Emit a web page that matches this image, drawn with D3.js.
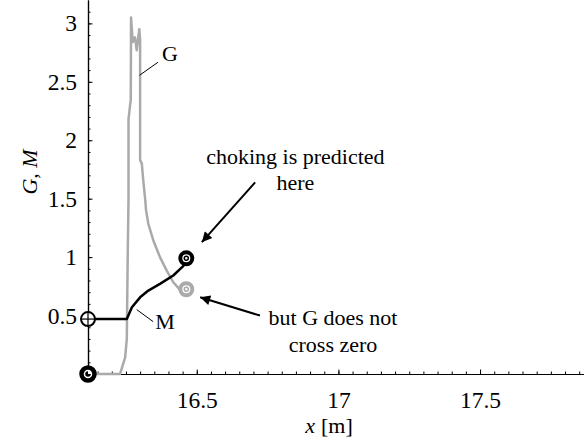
<!DOCTYPE html>
<html>
<head>
<meta charset="utf-8">
<script src="https://cdn.jsdelivr.net/npm/d3@7"></script>
<style>
  body { margin: 0; background: #fff; }
  svg, svg text { font-family: 'Liberation Serif', Tinos, 'Times New Roman', Times, 'DejaVu Serif', serif !important; }
</style>
</head>
<body>
<script>
// G curve (grey) and M curve (black)
var gX = [16.116, 16.229, 16.247, 16.253, 16.256, 16.259, 16.259, 16.267, 16.268, 16.274, 16.282, 16.288, 16.297, 16.300, 16.300, 16.306, 16.311, 16.318, 16.321, 16.329, 16.347, 16.370, 16.394, 16.417, 16.441, 16.455, 16.463]
var gY = [0, 0, 0.14, 0.30, 0.97, 1.49, 2.18, 2.35, 3.05, 2.84, 2.88, 2.77, 2.95, 2.86, 1.83, 1.80, 1.66, 1.49, 1.40, 1.285, 1.14, 1.00, 0.885, 0.785, 0.72, 0.705, 0.725]

var mX = [16.116, 16.253, 16.271, 16.300, 16.329, 16.370, 16.417, 16.453, 16.463]
var mY = [0.47, 0.47, 0.571, 0.656, 0.714, 0.771, 0.843, 0.925, 0.99]

var xTicks = [16.5, 17, 17.5]
var yTicks = [0.5, 1, 1.5, 2, 2.5, 3]

var width = 584, height = 442
var left = 88, bottom = 374
var serif = "'Liberation Serif', Tinos, 'Times New Roman', Times, 'DejaVu Serif', serif"

var svg = d3.select("body").append("svg")
    .attr("width", width)
    .attr("height", height)
    .attr("font-family", serif)

var x = d3.scaleLinear().domain([16.116, 17.867]).range([left, width])
var y = d3.scaleLinear().domain([0, 3.2]).range([bottom, 0])

var gData = gX.map(function(d, i) { return [d, gY[i]] })
var mData = mX.map(function(d, i) { return [d, mY[i]] })

// minor ticks
svg.append("g")
    .attr("transform", "translate(0," + bottom + ")")
    .call(d3.axisBottom(x).tickValues(d3.range(16.15, 17.87, 0.05)).tickSize(-2.5).tickSizeOuter(0).tickFormat(""))
svg.append("g")
    .attr("transform", "translate(" + left + ",0)")
    .call(d3.axisLeft(y).tickValues(d3.range(0.1, 3.2, 0.1)).tickSize(-2.5).tickSizeOuter(0).tickFormat(""))

// major ticks + labels
svg.append("g")
    .attr("transform", "translate(0," + bottom + ")")
    .call(d3.axisBottom(x).tickValues(xTicks).tickSize(-4.5).tickSizeOuter(0).tickPadding(17).tickFormat(function(d) { return d }))
svg.append("g")
    .attr("transform", "translate(" + left + ",0)")
    .call(d3.axisLeft(y).tickValues(yTicks).tickSize(-4.5).tickSizeOuter(0).tickPadding(11).tickFormat(function(d) { return d }))

svg.selectAll("g").attr("font-family", serif)
svg.selectAll(".domain").attr("stroke", "#000").attr("stroke-width", 1.2)
svg.selectAll(".tick line").attr("stroke", "#000").attr("stroke-width", 1)
svg.selectAll(".tick text")
    .attr("fill", "#000")
    .attr("font-size", 23.5)

// axis titles
var xl = svg.append("text")
    .attr("x", 329).attr("y", 433)
    .attr("text-anchor", "middle")
    .attr("font-size", 22)
xl.append("tspan").attr("font-style", "italic").text("x")
xl.append("tspan").attr("dx", 6).text("[m]")

var yl = svg.append("text")
    .attr("transform", "translate(37,172) rotate(-90)")
    .attr("text-anchor", "middle")
    .attr("font-size", 22)
yl.append("tspan").attr("font-style", "italic").text("G")
yl.append("tspan").text(", ")
yl.append("tspan").attr("font-style", "italic").text("M")

var line = d3.line().x(function(d) { return x(d[0]) }).y(function(d) { return y(d[1]) })

svg.append("path")
    .datum(gData)
    .attr("d", line)
    .attr("fill", "none")
    .attr("stroke", "#aaaaaa")
    .attr("stroke-width", 2.5)
    .attr("stroke-linejoin", "round")

svg.append("path")
    .datum(mData)
    .attr("d", line)
    .attr("fill", "none")
    .attr("stroke", "#000")
    .attr("stroke-width", 2.5)
    .attr("stroke-linejoin", "round")

// markers at start and end points
function ring(p, col, r, sw) {
    var g = svg.append("g").attr("transform", "translate(" + x(p[0]) + "," + y(p[1]) + ")")
    g.append("circle").attr("r", r).attr("fill", "#fff").attr("stroke", col).attr("stroke-width", sw)
    return g
}
var gs = ring(gData[0], "#000", 6.5, 4.5)
gs.append("path").attr("d", d3.arc()({innerRadius: 0, outerRadius: 2.8, startAngle: Math.PI / 2, endAngle: 2 * Math.PI})).attr("fill", "#000")
var ms = ring(mData[0], "#000", 7, 2)
ms.append("line").attr("x1", 0).attr("x2", 0).attr("y1", -7).attr("y2", 7).attr("stroke", "#000").attr("stroke-width", 1.2)
ms.append("line").attr("x1", -7).attr("x2", 7).attr("y1", 0).attr("y2", 0).attr("stroke", "#000").attr("stroke-width", 1.2)
var me = ring(mData[mData.length - 1], "#000", 6, 4)
me.append("circle").attr("r", 2).attr("fill", "none").attr("stroke", "#000").attr("stroke-width", 1.5)
var ge = ring(gData[gData.length - 1], "#aaaaaa", 6, 4)
ge.append("circle").attr("r", 2).attr("fill", "none").attr("stroke", "#aaaaaa").attr("stroke-width", 1.5)

// annotations (data coords)
var defs = svg.append("defs")
defs.append("marker")
    .attr("id", "head")
    .attr("viewBox", "0 0 10 10")
    .attr("refX", 10).attr("refY", 5)
    .attr("markerWidth", 6.5).attr("markerHeight", 5)
    .attr("markerUnits", "strokeWidth")
    .attr("orient", "auto")
  .append("path").attr("d", "M0,0 L10,5 L0,10 z").attr("fill", "#000")

function leader(a, b, sw, head) {
    var l = svg.append("line")
        .attr("x1", x(a[0])).attr("y1", y(a[1]))
        .attr("x2", x(b[0])).attr("y2", y(b[1]))
        .attr("stroke", "#000").attr("stroke-width", sw)
    if (head) l.attr("marker-end", "url(#head)")
}
function label(p, s, anchor) {
    svg.append("text")
        .attr("x", x(p[0])).attr("y", y(p[1]))
        .attr("text-anchor", anchor)
        .attr("font-size", 22)
        .text(s)
}

leader([16.298, 2.556], [16.363, 2.667], 1, false)
label([16.377, 2.676], "G", "start")
leader([16.288, 0.551], [16.346, 0.448], 1, false)
label([16.353, 0.385], "M", "start")

label([16.848, 1.800], "choking is predicted", "middle")
label([16.848, 1.575], "here", "middle")
leader([16.706, 1.64], [16.518, 1.128], 2, true)

label([16.981, 0.415], "but G does not", "middle")
label([16.981, 0.190], "cross zero", "middle")
leader([16.723, 0.5], [16.512, 0.656], 2, true)
</script>
</body>
</html>
